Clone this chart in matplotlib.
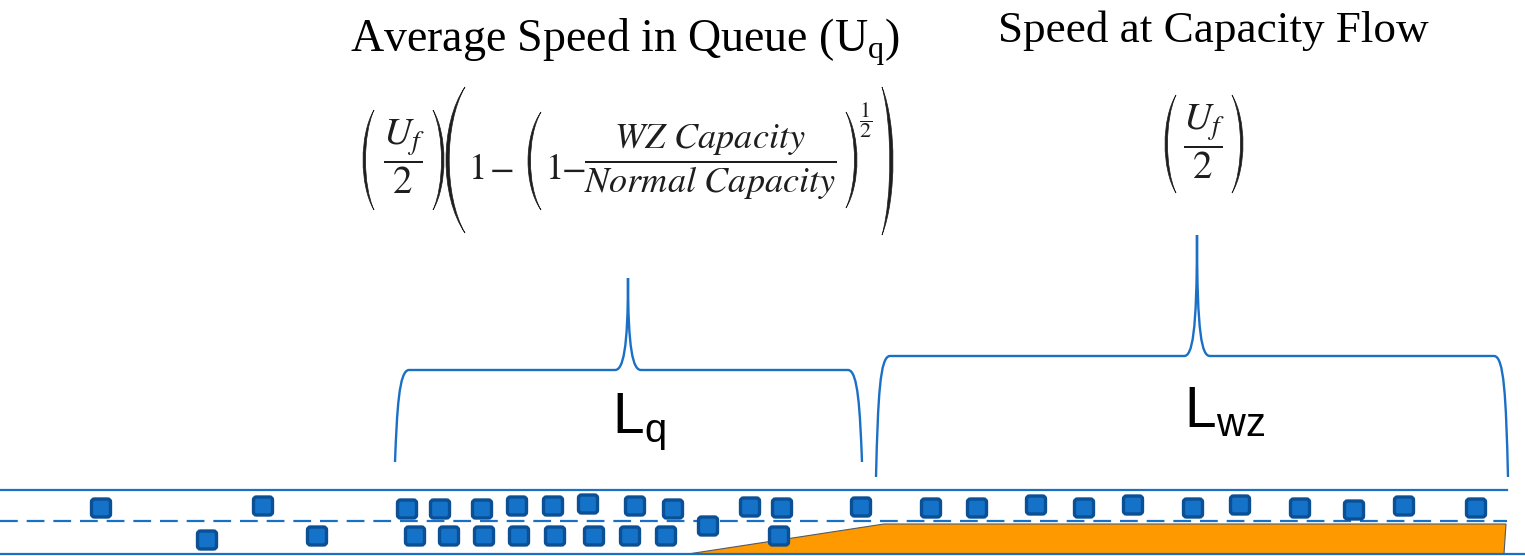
import matplotlib
matplotlib.use("Agg")
import matplotlib.pyplot as plt
from matplotlib.patches import FancyBboxPatch, Polygon
from matplotlib.path import Path
from matplotlib.patches import PathPatch

# ---- data (pixel coordinates of the sketch) ----
top_lane_x = [101, 263, 407, 440, 482, 517, 553, 588, 635, 673, 750, 782,
              861, 931, 977, 1036, 1084, 1133, 1193, 1240, 1300, 1354, 1404, 1476]
top_lane_y = [508, 506, 509, 509, 509, 506, 506, 504, 506, 509, 507, 508,
              507, 508, 508, 505, 508, 505, 508, 505, 508, 510, 506, 508]
bottom_lane_x = [207, 317, 415, 449, 484, 519, 555, 594, 630, 666, 708, 779]
bottom_lane_y = [540, 536, 536, 536, 536, 536, 536, 536, 536, 536, 526, 536]

# work zone taper: start, end of taper, end of zone
wz_taper = [688, 884]
wz_end = 1506

# braces: (left, right, peak x, bottom y, horizontal y, peak y)
brace_q = (395, 862, 628, 462, 370, 278)
brace_wz = (876, 1508, 1197, 477, 356, 235)

title_q = "Average Speed in Queue (U$_\\mathregular{q}$)"
title_wz = "Speed at Capacity Flow"
frac_uf = r"$\dfrac{U_f}{2}$"
frac_cap = r"$\dfrac{WZ\ Capacity}{Normal\ Capacity}$"
frac_exp = r"$\dfrac{1}{2}$"

BLUE = "#1a6fc6"
CAR_FACE = "#1472c9"
CAR_EDGE = "#0b4f94"
INK = "#1e1e1e"

fig = plt.figure(figsize=(15.25, 5.56), dpi=100)
ax = fig.add_axes([0, 0, 1, 1])
ax.set_xlim(0, 1525)
ax.set_ylim(556, 0)
ax.axis("off")

# work zone
ax.add_patch(Polygon([(wz_taper[0], 554), (wz_taper[1], 524), (wz_end, 524), (wz_end - 2, 554)],
                     closed=True, facecolor="#ff9900", edgecolor="#4d5b6b", lw=0.8, zorder=1))

# road lines
ax.plot([0, 1507], [490, 490], color=BLUE, lw=1.6, zorder=2)
ax.plot([0, 1525], [554, 554], color=BLUE, lw=1.6, zorder=2)
ax.plot([0, 1507], [521, 521], color=BLUE, lw=1.6, ls=(0, (8, 4)), zorder=2)

# cars
car_w, car_h = 19, 18
for x, y in list(zip(top_lane_x, top_lane_y)) + list(zip(bottom_lane_x, bottom_lane_y)):
    ax.add_patch(FancyBboxPatch((x - car_w / 2, y - car_h / 2), car_w, car_h,
                                boxstyle="round,pad=0,rounding_size=3",
                                facecolor=CAR_FACE, edgecolor=CAR_EDGE, lw=2.4, zorder=3))


def draw_brace(left, right, peak, yb, yh, yp):
    c = 14
    verts = [
        (left, yb),
        (left + 2, yh + 40), (left + 4, yh), (left + c, yh),
        (peak - 13, yh),
        (peak - 5, yh), (peak, yh - 20), (peak, yp),
        (peak, yh - 20), (peak + 5, yh), (peak + 13, yh),
        (right - c, yh),
        (right - 4, yh), (right - 2, yh + 40), (right, yb),
    ]
    codes = [Path.MOVETO,
             Path.CURVE4, Path.CURVE4, Path.CURVE4,
             Path.LINETO,
             Path.CURVE4, Path.CURVE4, Path.CURVE4,
             Path.CURVE4, Path.CURVE4, Path.CURVE4,
             Path.LINETO,
             Path.CURVE4, Path.CURVE4, Path.CURVE4]
    ax.add_patch(PathPatch(Path(verts, codes), facecolor="none", edgecolor=BLUE, lw=1.7, zorder=2))


def draw_paren(xe, xb, top, bottom, w):
    # thin bracket: xe = x of the tips, xb = x of the bulge, w = stroke width
    s = 1 if xb > xe else -1
    xo = (xb - 0.25 * xe) / 0.75
    xi = (xb - s * w - 0.25 * xe) / 0.75
    k = (bottom - top) * 0.25
    verts = [(xe, top), (xo, top + k), (xo, bottom - k), (xe, bottom),
             (xi, bottom - k), (xi, top + k), (xe, top), (xe, top)]
    codes = [Path.MOVETO, Path.CURVE4, Path.CURVE4, Path.CURVE4,
             Path.CURVE4, Path.CURVE4, Path.CURVE4, Path.CLOSEPOLY]
    ax.add_patch(PathPatch(Path(verts, codes), facecolor=INK, edgecolor=INK, lw=0.5, zorder=2))


draw_brace(*brace_q)
draw_brace(*brace_wz)

ax.text(612, 433, "L$_\\mathregular{q}$", family="Liberation Sans", fontsize=41,
        ha="left", va="baseline")
ax.text(1184, 428, "L$_\\mathregular{wz}$", family="Liberation Sans", fontsize=41,
        ha="left", va="baseline")

ax.text(350, 52, title_q, family="Liberation Serif", fontsize=33, ha="left", va="baseline")
ax.text(998, 42, title_wz, family="Liberation Serif", fontsize=32.5, ha="left", va="baseline")

# queue speed formula, assembled from pieces
mt = dict(math_fontfamily="stix", fontsize=26, color=INK)
mt_uf = dict(math_fontfamily="stix", fontsize=28, color=INK)
draw_paren(374, 363, 110, 210, 2.5)
ax.text(404, 157, frac_uf, ha="center", va="center", **mt_uf)
draw_paren(433, 444, 110, 210, 2.5)
draw_paren(465, 446, 87, 233, 3.2)
ax.text(468, 179, "$1$", ha="left", va="baseline", **mt)
ax.text(489, 179, "$-$", ha="left", va="baseline", **mt)
draw_paren(541, 528, 112, 210, 2.5)
ax.text(545, 179, "$1$", ha="left", va="baseline", **mt)
ax.text(561, 179, "$-$", ha="left", va="baseline", **mt)
ax.text(710, 162, frac_cap, ha="center", va="center", **mt)
draw_paren(846, 857, 112, 208, 2.5)
ax.text(866, 120, frac_exp, ha="center", va="center", math_fontfamily="stix", fontsize=16, color=INK)
draw_paren(882, 893, 87, 235, 3.2)

# capacity flow speed formula
draw_paren(1176, 1165, 95, 193, 2.5)
ax.text(1204, 142, frac_uf, ha="center", va="center", **mt_uf)
draw_paren(1232, 1243, 95, 193, 2.5)

fig.savefig("out.png", dpi=100)
